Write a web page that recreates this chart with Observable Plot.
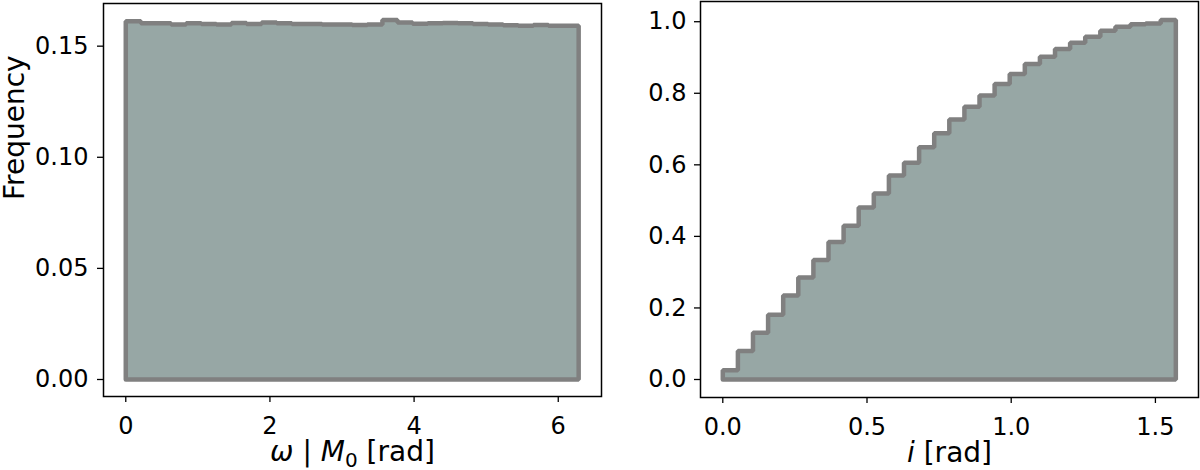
<!DOCTYPE html>
<html>
<head>
<meta charset="utf-8">
<script src="https://cdn.jsdelivr.net/npm/d3@7"></script>
<script src="https://cdn.jsdelivr.net/npm/@observablehq/plot@0.6"></script>
<style>
  html, body { margin: 0; padding: 0; background: #fff; }
  #wrap { position: relative; width: 1200px; height: 470px; overflow: hidden; }
  #wrap > div, #wrap > svg { position: absolute; top: 0; }
</style>
</head>
<body>
<div id="wrap"></div>
<script>
// ---- data ----
const omegaRange = [0, 2 * Math.PI];
const omegaFreq = [0.1612, 0.1603, 0.1603, 0.1597, 0.1603, 0.1600, 0.1597, 0.1604, 0.1600, 0.1607,
                   0.1603, 0.1600, 0.1600, 0.1597, 0.1597, 0.1595, 0.1597, 0.1618, 0.1607, 0.1601,
                   0.1603, 0.1604, 0.1603, 0.1600, 0.1597, 0.1594, 0.1592, 0.1595, 0.1592, 0.1592];
const incRange = [0, Math.PI / 2];
const incFreq = [0.026, 0.080, 0.131, 0.181, 0.235, 0.285, 0.334, 0.384, 0.430, 0.481,
                 0.520, 0.570, 0.606, 0.649, 0.688, 0.727, 0.762, 0.794, 0.826, 0.854,
                 0.882, 0.902, 0.924, 0.941, 0.958, 0.975, 0.986, 0.993, 0.995, 1.005];
const omegaXTicks = [0, 2, 4, 6];
const omegaYTicks = [0, 0.05, 0.10, 0.15];
const incXTicks = [0, 0.5, 1.0, 1.5];
const incYTicks = [0, 0.2, 0.4, 0.6, 0.8, 1.0];
const yLabel = "Frequency";

// ---- helpers ----
function outline(vals, range) {
  const [lo, hi] = range, n = vals.length, w = (hi - lo) / n;
  const pts = [{x: lo, y: 0}];
  vals.forEach((v, i) => { pts.push({x: lo + i * w, y: v}, {x: lo + (i + 1) * w, y: v}); });
  pts.push({x: hi, y: 0}, {x: lo, y: 0});
  return pts;
}

const FILL = "#97a7a5", EDGE = "#808080";
const font = "DejaVu Sans, sans-serif";

function panel({vals, range, xDomain, yDomain, xTicks, yTicks, xFmt, yFmt, width, ml, mr, mt, mb, yPad, withYLabel, xLabelKey}) {
  const pts = outline(vals, range);
  const marks = [
    Plot.areaY(pts.slice(0, -1), {x: "x", y1: 0, y2: "y", fill: FILL}),
    Plot.line(pts, {x: "x", y: "y", stroke: EDGE, strokeWidth: 4.5, strokeLinejoin: "miter"}),
    Plot.frame({stroke: "black", strokeWidth: 1.5}),
    Plot.axisX({ticks: xTicks, tickFormat: xFmt, tickSize: 6, tickPadding: 14, strokeWidth: 1.3, fontSize: 24, label: null}),
    Plot.axisY({ticks: yTicks, tickFormat: yFmt, tickSize: 6, tickPadding: yPad, strokeWidth: 1.3, fontSize: 24, label: null}),
    Plot.text([xLabelKey], {frameAnchor: "bottom", dy: 64, fontSize: 28, fill: "black", text: d => d})
  ];
  if (withYLabel) marks.push(Plot.text([yLabel], {frameAnchor: "left", dx: -88, rotate: -90, fontSize: 28, fill: "black", text: d => d}));
  return Plot.plot({
    width, height: 470,
    marginLeft: ml, marginRight: mr, marginTop: mt, marginBottom: mb,
    x: {domain: xDomain, label: null},
    y: {domain: yDomain, label: null},
    style: {fontFamily: font, fontSize: "24px", color: "black", background: "transparent", overflow: "visible"},
    marks
  });
}

const left = panel({
  vals: omegaFreq, range: omegaRange,
  xDomain: [-0.309, 6.600], yDomain: [-0.00765, 0.1692],
  xTicks: omegaXTicks, yTicks: omegaYTicks,
  xFmt: d3.format("d"), yFmt: d3.format(".2f"),
  width: 650, ml: 103, mr: 49, mt: 3, mb: 74, yPad: 9, withYLabel: true, xLabelKey: "OMEGA_LABEL"
});
const right = panel({
  vals: incFreq, range: incRange,
  xDomain: [-0.0773, 1.6494], yDomain: [-0.0503, 1.0565],
  xTicks: incXTicks, yTicks: incYTicks,
  xFmt: d3.format(".1f"), yFmt: d3.format(".1f"),
  width: 600, ml: 100, mr: 2, mt: 1, mb: 73, yPad: 8, withYLabel: false, xLabelKey: "INC_LABEL"
});

const wrap = document.getElementById("wrap");
left.style.left = "0px";
right.style.left = "600px";
wrap.appendChild(left);
wrap.appendChild(right);

// rich axis labels (mathtext-like)
d3.selectAll("#wrap text").each(function() {
  const t = d3.select(this);
  const s = t.text();
  if (s === "OMEGA_LABEL") {
    t.text(null);
    t.append("tspan").attr("font-style", "italic").text("ω");
    t.append("tspan").text(" | ");
    t.append("tspan").attr("font-style", "italic").text("M");
    t.append("tspan").attr("font-size", "20px").attr("dy", "6").text("0");
    t.append("tspan").attr("dy", "-6").text(" [rad]");
  } else if (s === "INC_LABEL") {
    t.text(null);
    t.append("tspan").attr("font-style", "italic").text("i");
    t.append("tspan").text(" [rad]");
  }
});
</script>
</body>
</html>
